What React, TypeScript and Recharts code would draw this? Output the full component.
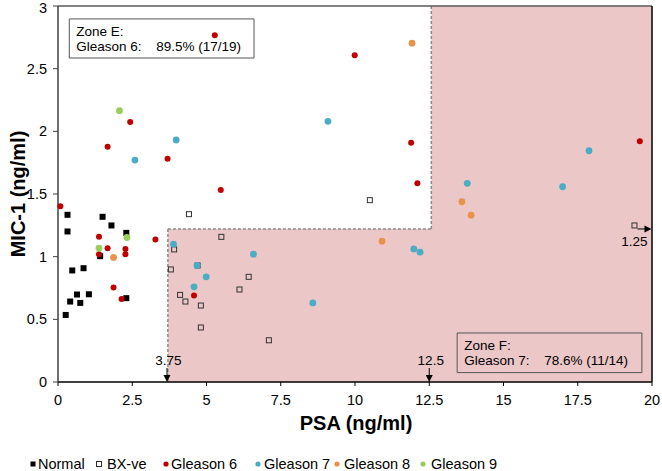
import React from "react";
import {
  ScatterChart,
  Scatter,
  XAxis,
  YAxis,
  ReferenceArea,
  ReferenceLine,
  ReferenceDot,
  Legend,
} from "recharts";

type Pt = { x: number; y: number };

// values
const normalPts: Pt[] = [
  { x: 0.32, y: 1.334 }, { x: 0.32, y: 1.201 }, { x: 1.5, y: 1.318 }, { x: 1.8, y: 1.249 },
  { x: 2.3, y: 1.19 }, { x: 1.42, y: 1.004 }, { x: 0.48, y: 0.89 }, { x: 0.86, y: 0.908 },
  { x: 0.64, y: 0.698 }, { x: 1.04, y: 0.7 }, { x: 0.41, y: 0.642 }, { x: 0.75, y: 0.631 },
  { x: 0.26, y: 0.535 }, { x: 2.3, y: 0.669 },
];

const bxNegPts: Pt[] = [
  { x: 4.41, y: 1.339 }, { x: 5.5, y: 1.158 }, { x: 3.91, y: 1.058 }, { x: 3.8, y: 0.898 },
  { x: 4.7, y: 0.93 }, { x: 4.11, y: 0.695 }, { x: 4.29, y: 0.642 }, { x: 4.81, y: 0.61 },
  { x: 4.81, y: 0.435 }, { x: 6.11, y: 0.738 }, { x: 6.42, y: 0.839 }, { x: 10.5, y: 1.451 },
  { x: 7.1, y: 0.333 }, { x: 19.41, y: 1.249 },
];

const gleason6Pts: Pt[] = [
  { x: 0.08, y: 1.403 }, { x: 5.48, y: 1.531 }, { x: 1.38, y: 1.158 }, { x: 1.67, y: 1.068 },
  { x: 1.38, y: 1.02 }, { x: 2.27, y: 1.062 }, { x: 2.27, y: 1.02 }, { x: 3.28, y: 1.137 },
  { x: 1.87, y: 0.754 }, { x: 2.14, y: 0.663 }, { x: 4.58, y: 0.69 }, { x: 12.1, y: 1.585 },
  { x: 11.89, y: 1.909 }, { x: 19.59, y: 1.92 }, { x: 5.28, y: 2.767 }, { x: 2.43, y: 2.074 },
  { x: 1.67, y: 1.877 }, { x: 3.69, y: 1.781 }, { x: 9.99, y: 2.607 },
];

const gleason7Pts: Pt[] = [
  { x: 3.89, y: 1.1 }, { x: 4.68, y: 0.93 }, { x: 4.99, y: 0.839 }, { x: 4.58, y: 0.759 },
  { x: 11.98, y: 1.062 }, { x: 12.19, y: 1.036 }, { x: 6.58, y: 1.02 }, { x: 8.58, y: 0.631 },
  { x: 13.78, y: 1.585 }, { x: 16.99, y: 1.558 }, { x: 17.88, y: 1.845 }, { x: 3.98, y: 1.931 },
  { x: 2.59, y: 1.771 }, { x: 9.09, y: 2.08 },
];

const gleason8Pts: Pt[] = [
  { x: 1.87, y: 0.994 }, { x: 10.91, y: 1.124 }, { x: 11.92, y: 2.703 },
  { x: 13.6, y: 1.438 }, { x: 13.91, y: 1.331 },
];

const gleason9Pts: Pt[] = [
  { x: 1.38, y: 1.068 }, { x: 2.32, y: 1.153 }, { x: 2.07, y: 2.165 },
];

const xTicks = [0, 2.5, 5, 7.5, 10, 12.5, 15, 17.5, 20];
const yTicks = [0, 0.5, 1, 1.5, 2, 2.5, 3];

// zone F boundary
const zoneLeft = 3.7;
const zoneTop = 1.22;
const zoneRight = 12.57;

const FONT = "'Liberation Sans', Arial, sans-serif";
const RED = "#c00000";
const TEAL = "#4bacc6";
const ORANGE = "#e8924a";
const GREEN = "#9acd5a";
const PINK = "#ebc7c7";

const legendItems = [
  { name: "Normal", kind: "square", color: "#000", sx: 33, tx: 38 },
  { name: "BX-ve", kind: "hollow", color: "#333", sx: 99, tx: 107 },
  { name: "Gleason 6", kind: "dot", color: RED, sx: 166, tx: 171 },
  { name: "Gleason 7", kind: "dot", color: TEAL, sx: 258, tx: 264 },
  { name: "Gleason 8", kind: "dot", color: ORANGE, sx: 337, tx: 344 },
  { name: "Gleason 9", kind: "dot", color: GREEN, sx: 423, tx: 431 },
];

const filledSquare = (props: any) => (
  <rect x={props.cx - 3} y={props.cy - 3} width={6} height={6} fill="#000" />
);
const hollowSquare = (props: any) => (
  <rect x={props.cx - 2.5} y={props.cy - 2.5} width={5} height={5} fill="none" stroke="#333" strokeWidth={1} />
);
const dot = (color: string, r: number) => (props: any) => (
  <circle cx={props.cx} cy={props.cy} r={r} fill={color} />
);

// y tick labels; the top one is nudged so it is not clipped by the page edge
const yTick = (props: any) => {
  const { x, y, payload } = props;
  const top = payload.value === 3 ? 2 : 0;
  return (
    <text x={x} y={y + top} dy="0.355em" textAnchor="end" fontFamily={FONT} fontSize={14.5} fill="#000">
      {payload.value}
    </text>
  );
};

const zoneText = (line1: string, line2a: string, line2b: string) => (props: any) => {
  const vb = props.viewBox;
  return (
    <g fontFamily={FONT} fontSize={13.5} fill="#000">
      <text x={vb.x + 7} y={vb.y + 17}>{line1}</text>
      <text x={vb.x + 7} y={vb.y + 32.5}>{line2a}</text>
      <text x={vb.x + 87} y={vb.y + 32.5}>{line2b}</text>
    </g>
  );
};

const downArrow = (label: string) => (props: any) => {
  const { cx, cy } = props;
  return (
    <g>
      <line x1={cx} y1={cy - 14} x2={cx} y2={cy - 6} stroke="#000" strokeWidth={1} />
      <path d={`M${cx - 3.5},${cy - 7} L${cx + 3.5},${cy - 7} L${cx},${cy} Z`} fill="#000" />
      <text x={cx + 1.5} y={cy - 17} textAnchor="middle" fontFamily={FONT} fontSize={13.5} fill="#000">
        {label}
      </text>
    </g>
  );
};

const rightArrow = (props: any) => {
  const { cx, cy } = props;
  return (
    <g>
      <line x1={cx + 3} y1={cy + 3.5} x2={cx + 11} y2={cy + 3.5} stroke="#000" strokeWidth={1} />
      <path d={`M${cx + 10},${cy} L${cx + 10},${cy + 7} L${cx + 17},${cy + 3.5} Z`} fill="#000" />
      <text x={cx} y={cy + 21} textAnchor="middle" fontFamily={FONT} fontSize={13.5} fill="#000">
        1.25
      </text>
    </g>
  );
};

const renderLegend = () => (
  <svg width={662} height={22} style={{ display: "block" }}>
    {legendItems.map((it) => (
      <g key={it.name}>
        {it.kind === "square" && <rect x={it.sx - 2.5} y={9.5} width={5} height={5} fill={it.color} />}
        {it.kind === "hollow" && (
          <rect x={it.sx - 2.5} y={9.5} width={5} height={5} fill="#fff" stroke={it.color} strokeWidth={1} />
        )}
        {it.kind === "dot" && <circle cx={it.sx} cy={12} r={2.6} fill={it.color} />}
        <text x={it.tx} y={17} fontFamily={FONT} fontSize={14.5} fill="#000">
          {it.name}
        </text>
      </g>
    ))}
  </svg>
);

export default function App() {
  return (
    <div style={{ position: "absolute", left: 0, top: 0, width: 662, height: 471, background: "#fff" }}>
      <ScatterChart width={662} height={471} margin={{ top: 6, right: 10, bottom: 29, left: 0 }}>
        <ReferenceArea x1={zoneLeft} x2={20} y1={0} y2={zoneTop} fill={PINK} fillOpacity={1} stroke="none" />
        <ReferenceArea x1={zoneRight} x2={20} y1={zoneTop} y2={3} fill={PINK} fillOpacity={1} stroke="none" />
        <ReferenceLine
          segment={[{ x: zoneLeft, y: 0 }, { x: zoneLeft, y: zoneTop }]}
          stroke="#8a8a8a"
          strokeWidth={1.5}
          strokeDasharray="3 2"
        />
        <ReferenceLine
          segment={[{ x: zoneLeft, y: zoneTop }, { x: zoneRight, y: zoneTop }]}
          stroke="#8a8a8a"
          strokeWidth={1.5}
          strokeDasharray="3 2"
        />
        <ReferenceLine
          segment={[{ x: zoneRight, y: zoneTop }, { x: zoneRight, y: 3 }]}
          stroke="#8a8a8a"
          strokeWidth={1.5}
          strokeDasharray="3 2"
        />
        <ReferenceLine y={3} stroke="#595959" strokeWidth={1.5} />
        <ReferenceLine x={20} stroke="#000" strokeWidth={1.5} />
        <ReferenceArea
          x1={0.38}
          x2={6.6}
          y1={2.585}
          y2={2.897}
          fill="#fff"
          fillOpacity={1}
          stroke="#555"
          strokeWidth={1}
          label={zoneText("Zone E:", "Gleason 6:", "89.5% (17/19)")}
        />
        <ReferenceArea
          x1={13.44}
          x2={19.66}
          y1={0.075}
          y2={0.391}
          fill="none"
          stroke="#555"
          strokeWidth={1}
          label={zoneText("Zone F:", "Gleason 7:", "78.6% (11/14)")}
        />
        <XAxis
          type="number"
          dataKey="x"
          domain={[0, 20]}
          ticks={xTicks}
          interval={0}
          height={60}
          tickSize={4}
          tickMargin={9}
          axisLine={{ stroke: "#000", strokeWidth: 1.5 }}
          tickLine={{ stroke: "#000" }}
          tick={{ fill: "#000", fontSize: 14.5, fontFamily: FONT }}
          label={(props: any) => (
            <text x={356} y={430} textAnchor="middle" fontFamily={FONT} fontSize={20} fontWeight="bold" fill="#000">
              PSA (ng/ml)
            </text>
          )}
        />
        <YAxis
          type="number"
          dataKey="y"
          domain={[0, 3]}
          ticks={yTicks}
          interval={0}
          width={58}
          tickSize={5}
          tickMargin={6}
          axisLine={{ stroke: "#404040", strokeWidth: 1.5 }}
          tickLine={{ stroke: "#404040" }}
          tick={yTick}
          label={(props: any) => (
            <text
              x={25}
              y={194}
              transform="rotate(-90 25 194)"
              textAnchor="middle"
              fontFamily={FONT}
              fontSize={20}
              fontWeight="bold"
              fill="#000"
            >
              MIC-1 (ng/ml)
            </text>
          )}
        />
        <Scatter name="Normal" data={normalPts} shape={filledSquare} isAnimationActive={false} />
        <Scatter name="BX-ve" data={bxNegPts} shape={hollowSquare} isAnimationActive={false} />
        <Scatter name="Gleason 6" data={gleason6Pts} shape={dot(RED, 3)} isAnimationActive={false} />
        <Scatter name="Gleason 7" data={gleason7Pts} shape={dot(TEAL, 3.4)} isAnimationActive={false} />
        <Scatter name="Gleason 8" data={gleason8Pts} shape={dot(ORANGE, 3.4)} isAnimationActive={false} />
        <Scatter name="Gleason 9" data={gleason9Pts} shape={dot(GREEN, 3.4)} isAnimationActive={false} />
        <ReferenceDot x={3.67} y={0} shape={downArrow("3.75")} />
        <ReferenceDot x={12.5} y={0} shape={downArrow("12.5")} />
        <ReferenceDot x={19.41} y={1.249} shape={rightArrow} />
        <Legend
          layout="horizontal"
          verticalAlign="middle"
          align="center"
          content={renderLegend}
          wrapperStyle={{ top: 452, left: 0, width: 662, height: 22 }}
        />
      </ScatterChart>
    </div>
  );
}
